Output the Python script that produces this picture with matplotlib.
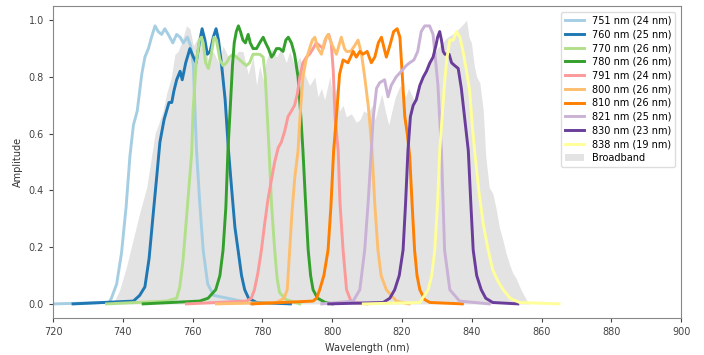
import numpy as np
import matplotlib
matplotlib.use("Agg")
import matplotlib.pyplot as plt

# filter transmission curves: (wavelength nm, amplitude)
labels = ["751 nm (24 nm)", "760 nm (25 nm)", "770 nm (26 nm)", "780 nm (26 nm)",
          "791 nm (24 nm)", "800 nm (26 nm)", "810 nm (26 nm)", "821 nm (25 nm)",
          "830 nm (23 nm)", "838 nm (19 nm)"]
colors = ["#a6cee3", "#1f78b4", "#b2df8a", "#33a02c", "#fb9a99",
          "#fdbf6f", "#ff7f00", "#cab2d6", "#6a3d9a", "#ffff99"]

f751_wl = [720, 736, 736.7, 738.2, 739.6, 740.9, 742, 743, 744.1, 745.4, 746.3, 747.3, 748.2,
           749.2, 750.1, 751.1, 752, 753, 754.3, 755.4, 756.4, 757.3, 758.5, 759.4, 760.2,
           760.6, 761.1, 762, 763, 764.3, 766, 772, 777.3]
f751_amp = [0, 0.005, 0.02, 0.07, 0.18, 0.34, 0.52, 0.63, 0.68, 0.81, 0.87, 0.90, 0.94,
            0.98, 0.96, 0.95, 0.97, 0.95, 0.92, 0.95, 0.94, 0.92, 0.94, 0.91, 0.84,
            0.70, 0.54, 0.36, 0.19, 0.07, 0.03, 0.015, 0.0]

f760_wl = [725.7, 743, 744.8, 746.3, 747.5, 748.7, 749.7, 750.6, 751.8, 752.5, 753.2, 754,
           754.6, 755.4, 756.4, 757, 758, 759.2, 760.2, 761, 761.9, 762.7, 763.5, 764.2,
           765, 765.9, 766.7, 767.4, 768.3, 769.3, 770.2, 771.2, 772.1, 773, 774, 774.9,
           776, 778.3, 788]
f760_amp = [0, 0.01, 0.03, 0.06, 0.16, 0.32, 0.45, 0.57, 0.65, 0.68, 0.71, 0.71,
            0.75, 0.79, 0.82, 0.79, 0.85, 0.90, 0.87, 0.85, 0.92, 0.97, 0.93, 0.88,
            0.89, 0.94, 0.97, 0.93, 0.84, 0.72, 0.55, 0.40, 0.27, 0.19, 0.10, 0.05,
            0.02, 0.005, 0]

f770_wl = [735.3, 752.5, 755.4, 756.3, 757.2, 758.2, 759.7, 760.1, 761, 761.9, 762.5, 763,
           763.7, 764.5, 765.2, 766.1, 766.8, 767.8, 768.7, 769.7, 770.6, 771.6, 772.5,
           773.5, 774.4, 775.4, 776.3, 777.3, 778.3, 779.2, 780.2, 780.8, 781.9, 782.6,
           783.5, 784.2, 784.9, 786.8, 790.7]
f770_amp = [0, 0.01, 0.02, 0.06, 0.15, 0.30, 0.53, 0.68, 0.85, 0.93, 0.94, 0.92,
            0.85, 0.83, 0.87, 0.94, 0.93, 0.86, 0.84, 0.85, 0.87, 0.88, 0.87,
            0.86, 0.85, 0.84, 0.85, 0.88, 0.88, 0.88, 0.87, 0.80, 0.54, 0.35,
            0.19, 0.09, 0.04, 0.015, 0]

f780_wl = [745.8, 762, 764.4, 766.6, 767.8, 768.7, 769.5, 770.1, 770.8, 771.4, 771.9, 772.5,
           773.1, 773.7, 774.4, 775.1, 775.9, 776.5, 777.3, 778.3, 779.2, 780.2, 780.9,
           781.7, 782.6, 783.2, 784, 784.9, 785.9, 786.7, 787.4, 788.3, 789.2, 790.2,
           791, 791.6, 792.3, 793.1, 793.8, 794.5, 795.8, 798, 800]
f780_amp = [0, 0.01, 0.02, 0.05, 0.10, 0.19, 0.34, 0.54, 0.70, 0.84, 0.92, 0.96,
            0.98, 0.96, 0.93, 0.92, 0.95, 0.92, 0.90, 0.90, 0.92, 0.94, 0.92,
            0.90, 0.87, 0.88, 0.90, 0.90, 0.89, 0.93, 0.94, 0.92, 0.88, 0.80,
            0.66, 0.54, 0.37, 0.19, 0.10, 0.05, 0.02, 0.005, 0]

f791_wl = [758.2, 775.4, 776.8, 777.7, 778.7, 779.7, 780.6, 781.6, 782.6, 783.5, 784.5,
           785.4, 786.4, 787.3, 788.3, 789.2, 790, 790.7, 791.6, 792.6, 793.5, 794.5,
           795.4, 796.4, 797.4, 798.3, 799, 799.7, 800.3, 800.8, 801.7, 802.2, 803.1,
           804.1, 805.5, 810]
f791_amp = [0, 0.01, 0.02, 0.05, 0.11, 0.19, 0.28, 0.37, 0.44, 0.50, 0.55,
            0.57, 0.61, 0.66, 0.68, 0.70, 0.74, 0.80, 0.85, 0.87, 0.88, 0.90,
            0.92, 0.91, 0.90, 0.94, 0.95, 0.92, 0.82, 0.66, 0.54, 0.36, 0.19,
            0.05, 0.005, 0]

f800_wl = [766.8, 784, 786.2, 787.1, 787.8, 788.5, 789.3, 790.2, 790.7, 791.6, 792.5, 793.5,
           794.3, 795, 795.9, 796.9, 797.9, 798.8, 799.7, 801.2, 802.6, 803.5, 804.1,
           805.3, 806.4, 807.4, 808.4, 809.3, 810.3, 810.9, 811.4, 812.2, 813.1, 814,
           815.5, 818.4, 822]
f800_amp = [0, 0.005, 0.02, 0.05, 0.19, 0.33, 0.45, 0.54, 0.65, 0.80, 0.86, 0.90,
            0.93, 0.94, 0.90, 0.88, 0.93, 0.95, 0.92, 0.88, 0.94, 0.90, 0.89,
            0.89, 0.91, 0.93, 0.88, 0.80, 0.70, 0.62, 0.54, 0.35, 0.19, 0.10,
            0.05, 0.01, 0]

f810_wl = [777, 794.5, 795.5, 796.4, 797.6, 798.8, 799.6, 800.4, 801.2, 802.1, 803.1,
           804.5, 806, 806.9, 807.9, 808.8, 810, 811.2, 812.2, 813.2, 814.1, 814.9,
           815.5, 816.5, 817.6, 818.6, 819.4, 820.1, 820.8, 821.5, 822.2, 822.9, 823.6,
           824.3, 825.1, 826.5, 828, 837.3]
f810_amp = [0, 0.01, 0.02, 0.05, 0.10, 0.19, 0.34, 0.54, 0.66, 0.81, 0.86,
            0.85, 0.89, 0.87, 0.89, 0.88, 0.89, 0.85, 0.87, 0.92, 0.94, 0.90,
            0.87, 0.91, 0.96, 0.97, 0.94, 0.80, 0.66, 0.60, 0.52, 0.35, 0.19,
            0.10, 0.05, 0.015, 0.005, 0]

f821_wl = [797, 806, 807.9, 809.3, 810.3, 811.2, 811.7, 812.7, 813.6, 815, 816, 816.9,
           818.3, 819.8, 821.2, 822.2, 823.4, 824.5, 825.5, 826.5, 827.9, 828.9, 829.6,
           830.3, 830.8, 831.3, 832.2, 833.7, 836.5, 845]
f821_amp = [0, 0.01, 0.05, 0.19, 0.36, 0.54, 0.65, 0.76, 0.78, 0.79, 0.73, 0.77,
            0.80, 0.82, 0.84, 0.85, 0.86, 0.89, 0.96, 0.98, 0.98, 0.95, 0.86,
            0.77, 0.65, 0.54, 0.19, 0.05, 0.01, 0]

f830_wl = [799, 814.6, 816.5, 817.9, 819.2, 820.3, 821, 821.7, 822.4, 823.2, 824.1,
           825.1, 826.1, 827, 828, 828.9, 829.7, 830.2, 830.8, 831.3, 831.8, 832.3,
           833.5, 834.2, 835.1, 836.1, 837, 838, 839, 839.7, 840.4, 841.4, 842.7,
           844, 846, 853.2]
f830_amp = [0, 0.005, 0.02, 0.05, 0.10, 0.19, 0.35, 0.54, 0.66, 0.70, 0.72,
            0.77, 0.80, 0.82, 0.85, 0.87, 0.91, 0.94, 0.96, 0.93, 0.89, 0.88,
            0.88, 0.85, 0.84, 0.83, 0.76, 0.65, 0.54, 0.36, 0.19, 0.10, 0.05,
            0.02, 0.005, 0]

f838_wl = [808.9, 825.1, 827.5, 828.5, 829.4, 830.2, 830.8, 831.5, 832.2, 832.8, 833.7,
           834.7, 835.6, 836.6, 837.5, 838.5, 839.4, 840.2, 840.8, 842, 843.3, 844.7,
           846, 847.5, 849, 851, 853.7, 865]
f838_amp = [0, 0.005, 0.05, 0.10, 0.19, 0.36, 0.54, 0.66, 0.78, 0.86, 0.93,
            0.93, 0.96, 0.94, 0.89, 0.82, 0.75, 0.62, 0.54, 0.40, 0.28, 0.19,
            0.12, 0.08, 0.05, 0.02, 0.005, 0]

# broadband source spectrum
bb_wl = [737.2, 739.1, 741, 743, 744.8, 746.8, 748.2, 749.2, 750.1, 751.5, 752.5, 753.9,
         754.9, 755.8, 756.8, 758.2, 759.2, 760.2, 761.6, 763, 764.5, 765.9, 767.4, 768.7,
         770.2, 771.6, 773, 774.4, 775.9, 777.3, 778.3, 779.2, 780.2, 781.1, 782.6, 784,
         785.4, 786.8, 787.8, 789.2, 790.7, 792.1, 793.5, 795, 795.9, 796.9, 797.8, 799.3,
         800.2, 801.2, 802.1, 803.1, 804, 805.5, 806.9, 808, 809, 810.4, 811.3, 812.3,
         813.3, 814.2, 815.2, 816.2, 817.1, 818.1, 819.5, 821, 821.9, 823.4, 824.8,
         826.3, 827.2, 828.7, 830.1, 831.5, 833, 834.4, 836.3, 837.8, 838.5, 839.2,
         839.9, 840.7, 841.4, 842.3, 843.3, 844, 845, 846, 846.9, 847.9, 848.8, 849.8,
         850.8, 851.7, 852.7, 854.1, 855.6, 856.5]
bb_amp = [0, 0.05, 0.13, 0.23, 0.32, 0.41, 0.52, 0.60, 0.63, 0.68, 0.74, 0.80,
          0.88, 0.89, 0.92, 0.98, 0.97, 0.91, 0.94, 0.92, 0.86, 0.89, 0.85, 0.91,
          0.87, 0.86, 0.89, 0.89, 0.81, 0.87, 0.77, 0.84, 0.79, 0.86, 0.90, 0.87,
          0.90, 0.85, 0.89, 0.84, 0.87, 0.81, 0.77, 0.80, 0.73, 0.76, 0.72, 0.80,
          0.73, 0.76, 0.68, 0.70, 0.66, 0.67, 0.64, 0.65, 0.68, 0.67, 0.70, 0.65,
          0.70, 0.74, 0.68, 0.63, 0.68, 0.73, 0.77, 0.73, 0.76, 0.72, 0.77,
          0.81, 0.85, 0.87, 0.90, 0.92, 0.94, 0.95, 0.97, 0.99, 1.0, 0.94,
          0.92, 0.84, 0.80, 0.78, 0.68, 0.52, 0.41, 0.39, 0.34, 0.27, 0.23, 0.18,
          0.14, 0.11, 0.09, 0.05, 0.015, 0]

curves = [(f751_wl, f751_amp), (f760_wl, f760_amp), (f770_wl, f770_amp),
          (f780_wl, f780_amp), (f791_wl, f791_amp), (f800_wl, f800_amp),
          (f810_wl, f810_amp), (f821_wl, f821_amp), (f830_wl, f830_amp),
          (f838_wl, f838_amp)]

fig = plt.figure(figsize=(7.04, 3.55), dpi=100)
ax = fig.add_axes([0.0755, 0.104, 0.892, 0.879])

ax.fill_between(bb_wl, bb_amp, 0, color="#e3e3e3", lw=0, label="Broadband", zorder=1)
for (wl, amp), c, lab in zip(curves, colors, labels):
    ax.plot(wl, amp, color=c, lw=2.1, label=lab, zorder=2)

ax.set_xlim(720, 900)
ax.set_ylim(-0.05, 1.05)
ax.set_xlabel("Wavelength (nm)", fontsize=7, color="#333333")
ax.set_ylabel("Amplitude", fontsize=7, color="#333333")
ax.tick_params(labelsize=7, colors="#444444", length=3)
for s in ax.spines.values():
    s.set_color("#888888")

handles, labs = ax.get_legend_handles_labels()
handles = handles[1:] + handles[:1]
labs = labs[1:] + labs[:1]
ax.legend(handles, labs, loc="upper right", fontsize=7, framealpha=1,
          edgecolor="#dddddd", labelspacing=0.38, borderaxespad=0.6)

fig.savefig("out.png", dpi=100)
